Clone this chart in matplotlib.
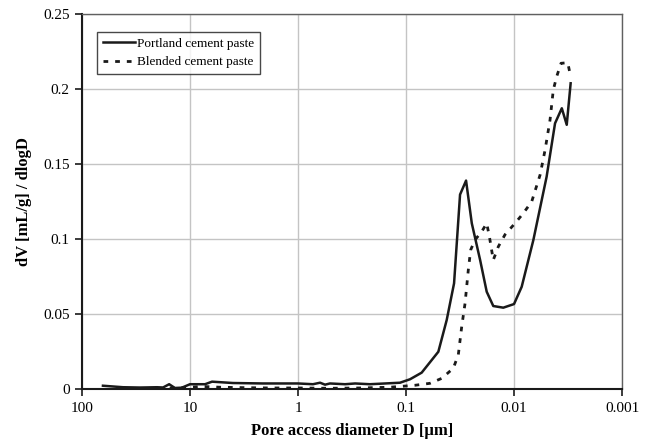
import matplotlib
matplotlib.use("Agg")
import matplotlib.pyplot as plt
from matplotlib.ticker import FixedLocator, FixedFormatter, NullLocator

# Pore size distribution
portland_d = [64.0, 41.7, 29.0, 20.2, 17.8, 15.6, 13.8, 11.9, 10.0, 7.26, 6.25,
              4.0, 2.11, 1.38, 1.0, 0.727, 0.625, 0.562, 0.506, 0.367, 0.296,
              0.216, 0.156, 0.1137, 0.0918, 0.0716, 0.0502, 0.0420, 0.0359,
              0.0316, 0.0278, 0.0246, 0.0206, 0.0179, 0.01556, 0.01257, 0.0100,
              0.00849, 0.00662, 0.00499, 0.00417, 0.00361, 0.00325, 0.00299]
portland_v = [0.0025, 0.0015, 0.0013, 0.0015, 0.0013, 0.0035, 0.0010, 0.0012,
              0.0035, 0.0035, 0.0052, 0.0043, 0.0040, 0.0040, 0.0040, 0.0035,
              0.0045, 0.0032, 0.0040, 0.0035, 0.0040, 0.0035, 0.0040, 0.0045,
              0.0068, 0.0112, 0.0251, 0.0462, 0.0706, 0.1296, 0.1389, 0.1105,
              0.0861, 0.0650, 0.0555, 0.0544, 0.0568, 0.0683, 0.0994, 0.1415,
              0.1770, 0.1870, 0.1760, 0.2036]

blended_d = [41.7, 29.0, 20.2, 13.8, 10.0, 7.59, 5.28, 3.10, 1.82, 1.0, 0.506,
             0.267, 0.1406, 0.0826, 0.0600, 0.0467, 0.0365, 0.0328, 0.0305,
             0.0284, 0.0265, 0.0252, 0.0230, 0.0199, 0.0179, 0.0169, 0.01556,
             0.01397, 0.01211, 0.00979, 0.00820, 0.00686, 0.00574, 0.00516,
             0.00464, 0.00433, 0.00403, 0.00367, 0.00318, 0.00299]
blended_v = [0.0008, 0.0005, 0.0008, 0.0010, 0.0015, 0.0020, 0.0015, 0.0012,
             0.0010, 0.0010, 0.0008, 0.0010, 0.0015, 0.0028, 0.0041, 0.0074,
             0.0141, 0.0230, 0.0418, 0.0573, 0.0795, 0.0928, 0.0994, 0.1050,
             0.1105, 0.1016, 0.0861, 0.0950, 0.1030, 0.1105, 0.1172, 0.1249,
             0.1426, 0.1592, 0.1792, 0.1991, 0.2080, 0.2169, 0.2173, 0.2080]

x_ticks = [100, 10, 1, 0.1, 0.01, 0.001]
x_labels = ["100", "10", "1", "0.1", "0.01", "0.001"]
y_ticks = [0, 0.05, 0.1, 0.15, 0.2, 0.25]
y_labels = ["0", "0.05", "0.1", "0.15", "0.2", "0.25"]

plt.rcParams['font.family'] = ['Liberation Serif', 'DejaVu Serif']

fig = plt.figure(figsize=(6.54, 4.43), dpi=100)
ax = fig.add_axes([0.1254, 0.1208, 0.8257, 0.8487])

ax.plot(portland_d, portland_v, color='#1a1a1a', lw=1.8, label='Portland cement paste')
ax.plot(blended_d, blended_v, color='#1a1a1a', lw=2.0, linestyle=(0, (1.7, 2.5)),
        label='Blended cement paste')

ax.set_xscale('log')
ax.set_xlim(100, 0.001)
ax.set_ylim(0, 0.25)

ax.xaxis.set_major_locator(FixedLocator(x_ticks))
ax.xaxis.set_major_formatter(FixedFormatter(x_labels))
ax.xaxis.set_minor_locator(NullLocator())
ax.yaxis.set_major_locator(FixedLocator(y_ticks))
ax.yaxis.set_major_formatter(FixedFormatter(y_labels))

ax.grid(True, color='#c4c4c4', lw=1.0)
ax.set_axisbelow(True)

for side in ['left', 'bottom']:
    ax.spines[side].set_color('#1a1a1a')
    ax.spines[side].set_linewidth(1.5)
for side in ['top', 'right']:
    ax.spines[side].set_color('#606060')
    ax.spines[side].set_linewidth(1.0)

ax.tick_params(axis='both', direction='out', length=5, width=1.2, color='#1a1a1a',
               labelsize=11, pad=4)

ax.set_xlabel('Pore access diameter D [μm]', fontsize=12, fontweight='bold', labelpad=6)
ax.set_ylabel('dV [mL/g] / dlogD', fontsize=12, fontweight='bold', labelpad=8)

leg = ax.legend(loc='upper left', bbox_to_anchor=(0.028, 0.951), fontsize=9.5,
                frameon=True, fancybox=False, edgecolor='#1a1a1a', handlelength=2.4,
                handletextpad=0.2, borderpad=0.45, labelspacing=0.45, borderaxespad=0)
leg.get_frame().set_linewidth(1.0)

fig.savefig('out.png', dpi=100)
